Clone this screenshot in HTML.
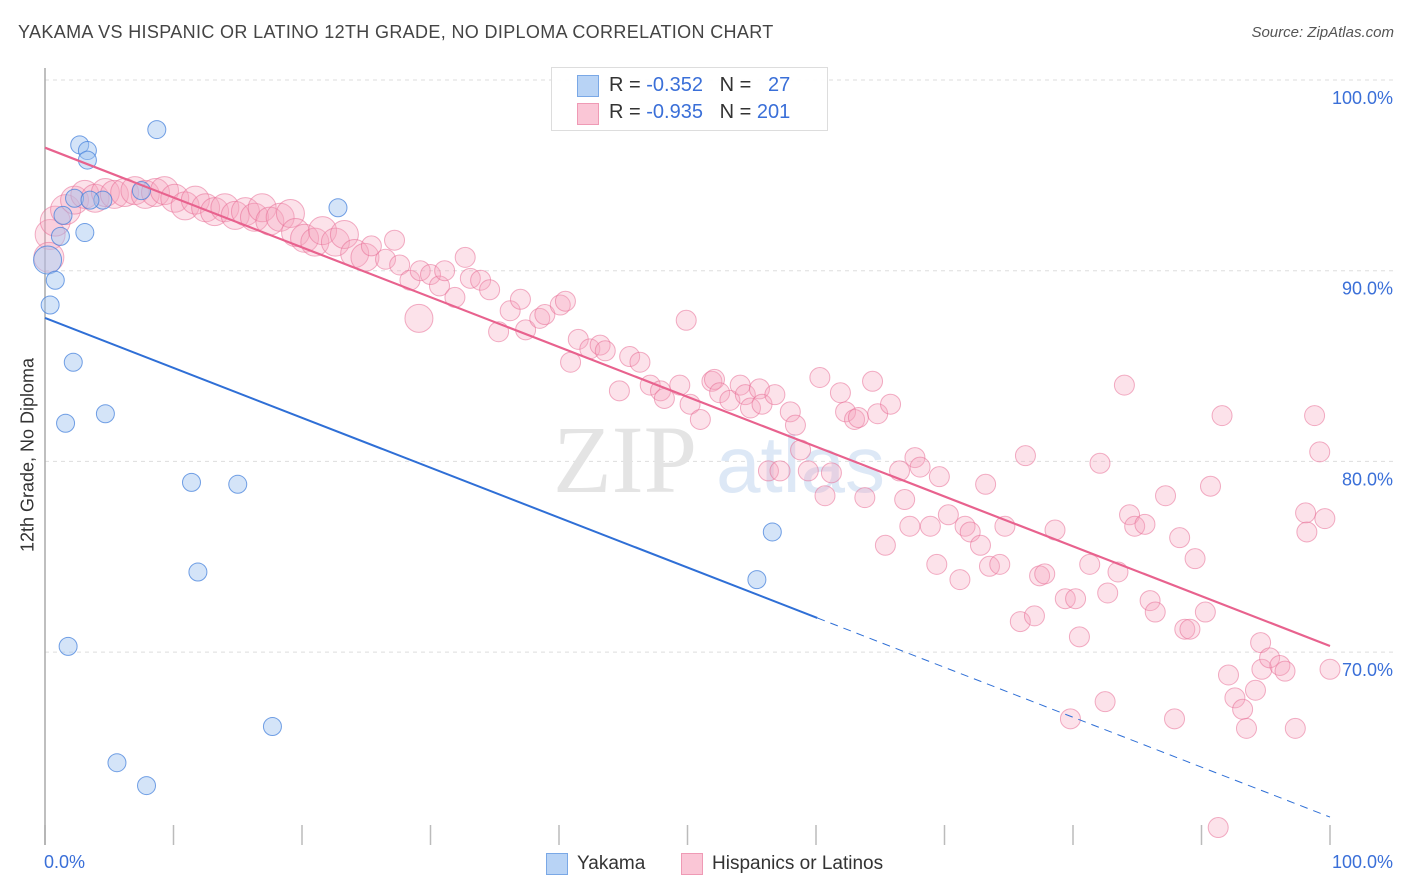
<!DOCTYPE html>
<html><head><meta charset="utf-8"><style>
body{margin:0;background:#fff;font-family:"Liberation Sans",sans-serif;}
#wrap{position:relative;width:1406px;height:892px;overflow:hidden;}
.t{position:absolute;white-space:nowrap;}
</style></head><body>
<div id="wrap">
<div class="t" style="left:18px;top:22px;font-size:18px;color:#444;letter-spacing:0.35px;">YAKAMA VS HISPANIC OR LATINO 12TH GRADE, NO DIPLOMA CORRELATION CHART</div>
<div class="t" style="right:12px;top:24px;font-size:15px;color:#555;font-style:italic;">Source: ZipAtlas.com</div>
<svg id="plot" width="1406" height="892" style="position:absolute;left:0;top:0;"></svg>
</div>
<script>
const yakamaX=[0.2,0.4,0.8,1.2,1.4,2.2,1.6,2.7,3.3,3.3,3.1,4.5,4.7,7.5,8.7,11.4,15.0,11.9,1.8,5.6,7.9,17.7,22.8,56.6,55.4,2.3,3.5];
const yakamaY=[90.56,88.2,89.5,91.8,92.9,85.2,82.0,96.6,96.3,95.8,92.0,93.7,82.5,94.2,97.4,78.9,78.8,74.2,70.3,64.2,63.0,66.1,93.3,76.3,73.8,93.8,93.7];
const hispX=[0.4,0.8,1.6,2.3,3.1,3.9,4.7,5.4,6.2,7.0,7.8,8.6,9.3,10.1,10.9,11.7,12.5,13.2,14.0,14.8,15.6,16.3,16.9,17.5,18.3,19.1,19.5,20.2,21.0,21.6,22.6,23.3,24.1,24.9,25.4,26.5,27.2,27.6,28.4,29.2,30.0,30.7,31.1,31.9,32.7,33.1,33.9,34.6,35.3,36.2,37.0,37.4,38.5,38.9,40.1,40.5,40.9,41.5,42.4,43.2,43.6,44.7,45.5,46.3,47.1,47.9,48.2,49.4,49.9,50.2,51.0,51.9,52.1,52.5,53.3,54.1,54.5,54.9,55.6,55.8,56.3,56.8,57.2,58.0,58.4,58.8,59.4,60.3,60.7,61.2,61.9,62.3,63.0,63.3,63.8,64.4,64.8,65.4,65.8,66.5,66.9,67.3,67.7,68.1,68.9,69.4,69.6,70.3,71.2,71.6,72.0,72.8,73.2,73.5,74.3,74.7,75.9,76.3,77.0,77.4,77.8,78.6,79.4,79.8,80.2,80.5,81.3,82.1,82.5,82.7,83.5,84.0,84.4,84.8,85.6,86.0,86.4,87.2,87.9,88.3,88.7,89.1,89.5,90.3,90.7,91.3,91.6,92.1,92.6,93.2,93.5,94.2,94.6,94.7,95.3,96.1,96.5,97.3,98.1,98.2,98.8,99.2,99.6,100.0,29.1,0.3];
const hispY=[91.9,92.6,93.2,93.7,94.0,93.8,94.1,94.0,94.1,94.2,94.0,94.1,94.2,93.8,93.4,93.7,93.3,93.1,93.3,92.9,93.1,92.8,93.3,92.6,92.8,93.0,92.0,91.7,91.5,92.1,91.5,91.9,90.9,90.7,91.3,90.6,91.6,90.3,89.5,90.0,89.8,89.2,90.0,88.6,90.7,89.6,89.5,89.0,86.8,87.9,88.5,86.9,87.5,87.7,88.2,88.4,85.2,86.4,85.9,86.1,85.8,83.7,85.5,85.2,84.0,83.7,83.3,84.0,87.4,83.0,82.2,84.2,84.3,83.6,83.2,84.0,83.5,82.8,83.8,83.0,79.5,83.5,79.5,82.6,81.9,80.6,79.5,84.4,78.2,79.4,83.6,82.6,82.2,82.3,78.1,84.2,82.5,75.6,83.0,79.5,78.0,76.6,80.2,79.7,76.6,74.6,79.2,77.2,73.8,76.6,76.3,75.6,78.8,74.5,74.6,76.6,71.6,80.3,71.9,74.0,74.1,76.4,72.8,66.5,72.8,70.8,74.6,79.9,67.4,73.1,74.2,84.0,77.2,76.6,76.7,72.7,72.1,78.2,66.5,76.0,71.2,71.2,74.9,72.1,78.7,60.8,82.4,68.8,67.6,67.0,66.0,68.0,70.5,69.1,69.7,69.3,69.0,66.0,77.3,76.3,82.4,80.5,77.0,69.1,87.5,90.7];
const hispTrend=[96.45,70.32];
const yakTrend=[87.52,61.35];
const yakSolidEnd=60.1;
const yTicks=[100,90,80,70];
const yTickLabels=["100.0%","90.0%","80.0%","70.0%"];
const xTicks=[0,10,20,30,40,50,60,70,80,90,100];

const NS="http://www.w3.org/2000/svg";
const svg=document.getElementById('plot');
const X=v=>45+v*12.85;
const Y=v=>80+(100-v)*19.07;
function mk(tag,attrs,parent){const e=document.createElementNS(NS,tag);for(const k in attrs)e.setAttribute(k,attrs[k]);(parent||svg).appendChild(e);return e;}

yTicks.forEach((v,i)=>{
  const g=mk('line',{x1:45,x2:1393,y1:Y(v),y2:Y(v),stroke:'#ddd','stroke-dasharray':'4,4'});
  
  
  const t=mk('text',{x:1393,y:Y(v)+24,'text-anchor':'end','font-size':18,fill:'#3a6fd8','font-family':'Liberation Sans'});
  t.textContent=yTickLabels[i];
  
  
});
xTicks.forEach(v=>{
  const l=mk('line',{x1:X(v),x2:X(v),y1:825,y2:845,stroke:'#bbb','stroke-width':1.5});
  
  
});
const ax=mk('line',{x1:45,x2:45,y1:68,y2:845,stroke:'#aaa','stroke-width':1.5});



const w1=mk('text',{x:553,y:492,'font-size':96,fill:'#e4e4e4','font-family':'Liberation Serif'});
w1.textContent='ZIP';


const w2=mk('text',{x:716,y:492,'font-size':80,fill:'#dde8f6','font-family':'Liberation Sans'});
w2.textContent='atlas';



hispX.forEach((x,i)=>{
  const r=(x<25||i===hispX.length-2)?(x<2?15:14):10;
  const c=mk('circle',{cx:X(x),cy:Y(hispY[i]),r:r,fill:'rgba(246,166,190,0.32)',stroke:'rgba(232,110,150,0.55)','stroke-width':1});
  
  
});
yakamaX.forEach((x,i)=>{
  const c=mk('circle',{cx:X(x),cy:Y(yakamaY[i]),r:i===0?14:9,fill:'rgba(160,196,240,0.45)',stroke:'rgba(70,130,220,0.75)','stroke-width':1});
  
  
});
const yAt=x=>yakTrend[0]+(yakTrend[1]-yakTrend[0])*x/100;
const bl=mk('line',{x1:X(0),y1:Y(yakTrend[0]),x2:X(yakSolidEnd),y2:Y(yAt(yakSolidEnd)),stroke:'#2f6fd6','stroke-width':2});


const bd=mk('line',{x1:X(yakSolidEnd),y1:Y(yAt(yakSolidEnd)),x2:X(100),y2:Y(yakTrend[1]),stroke:'#2f6fd6','stroke-width':1,'stroke-dasharray':'8,6'});


const pl=mk('line',{x1:X(0),y1:Y(hispTrend[0]),x2:X(100),y2:Y(hispTrend[1]),stroke:'#e8628e','stroke-width':2.2});


</script>
<div style="position:absolute;left:551px;top:67px;width:275px;height:62px;border:1px solid #ddd;background:rgba(255,255,255,0.9);"></div>
<div style="position:absolute;left:577px;top:75px;width:20px;height:20px;background:#b8d3f5;border:1px solid #7aa8e6;"></div>
<div style="position:absolute;left:577px;top:103px;width:20px;height:20px;background:#fac6d6;border:1px solid #ef9ab5;"></div>
<div class="t" style="left:609px;top:74px;font-size:20px;color:#333;">R = <span style="color:#3a6fd8">-0.352</span>&nbsp;&nbsp;&nbsp;N = &nbsp;&nbsp;<span style="color:#3a6fd8">27</span></div>
<div class="t" style="left:609px;top:101px;font-size:20px;color:#333;">R = <span style="color:#3a6fd8">-0.935</span>&nbsp;&nbsp;&nbsp;N = <span style="color:#3a6fd8">201</span></div>
<div class="t" style="left:28px;top:455px;font-size:18px;color:#333;transform:translate(-50%,-50%) rotate(-90deg);">12th Grade, No Diploma</div>
<div class="t" style="left:44px;top:852px;font-size:18px;color:#3a6fd8;">0.0%</div>
<div class="t" style="right:13px;top:852px;font-size:18px;color:#3a6fd8;">100.0%</div>
<div style="position:absolute;left:546px;top:853px;width:20px;height:20px;background:#b8d3f5;border:1px solid #7aa8e6;"></div>
<div class="t" style="left:577px;top:853px;font-size:19px;color:#333;">Yakama</div>
<div style="position:absolute;left:681px;top:853px;width:20px;height:20px;background:#fac6d6;border:1px solid #ef9ab5;"></div>
<div class="t" style="left:712px;top:853px;font-size:19px;color:#333;">Hispanics or Latinos</div>
</body></html>
